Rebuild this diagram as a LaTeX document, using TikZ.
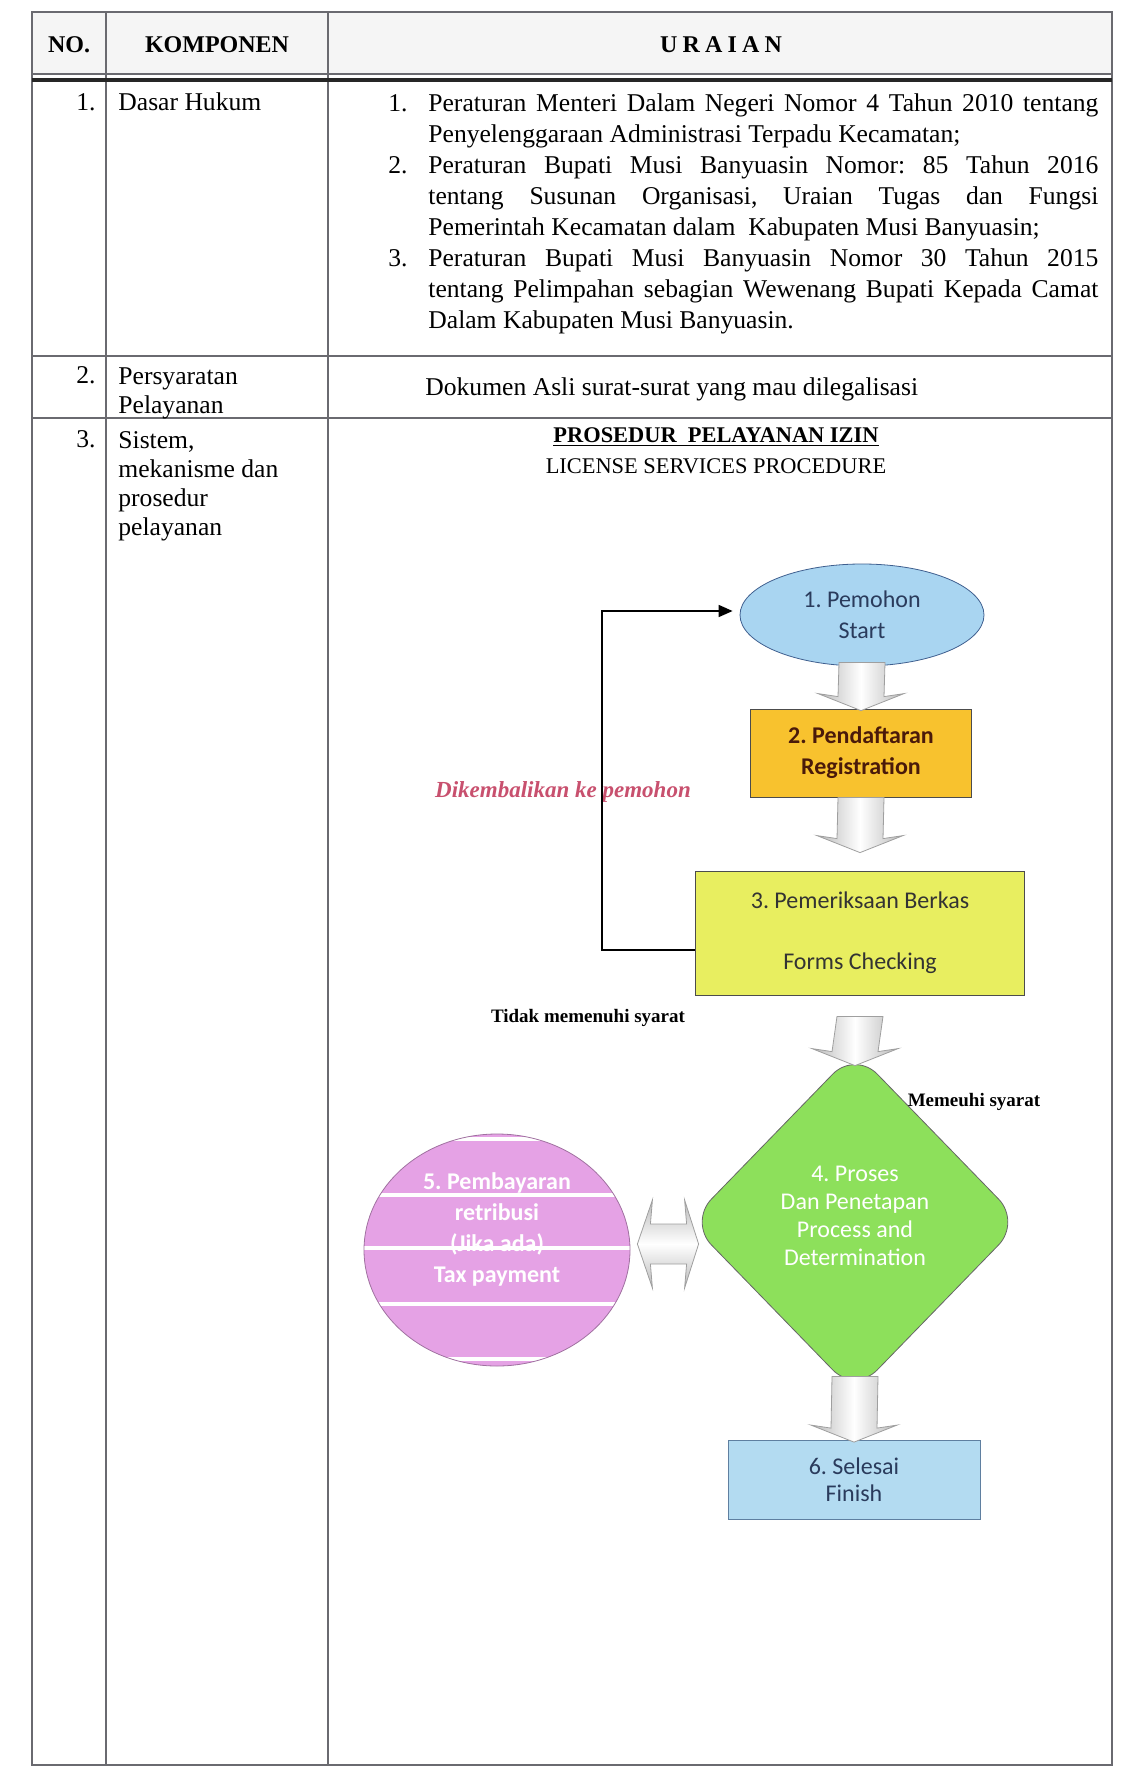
\documentclass[tikz,border=0pt]{standalone}
\usepackage{fontspec}
\setmainfont{Liberation Serif}
\newfontfamily\flowfont{Carlito}
\usetikzlibrary{shapes.geometric,arrows.meta,calc,positioning}
\definecolor{startblue}{HTML}{A9D5F1}
\definecolor{startedge}{HTML}{3F5F8F}
\definecolor{startink}{HTML}{2A3B5C}
\definecolor{regyellow}{HTML}{F8C22E}
\definecolor{regink}{HTML}{4A1A0A}
\definecolor{checkyellow}{HTML}{E8EE60}
\definecolor{procgreen}{HTML}{8DE05B}
\definecolor{paypink}{HTML}{E5A2E5}
\definecolor{finblue}{HTML}{B3DBF1}
\definecolor{finedge}{HTML}{5F7FA0}
\definecolor{backred}{HTML}{C8506E}
\definecolor{rulegray}{HTML}{6A6A70}
\newcommand{\downarr}[3][0]{%
  \shadedraw[left color=gray!55,right color=gray!55,middle color=white,draw=gray!75,line width=0.4pt]
    ($(#2)+(-23,#1)$) -- ($(#3)+(-23,-12)$) -- ($(#3)+(-43,-15)$)
    -- ($(#3)+(0,2)$) -- ($(#3)+(43,-15)$) -- ($(#3)+(23,-12)$)
    -- ($(#2)+(23,#1)$) -- cycle;}
\newcommand{\duoarr}[2]{%
  \shadedraw[top color=gray!55,bottom color=gray!55,middle color=white,draw=gray!75,line width=0.4pt]
    ($(#1.east)+(7,-6)$) -- ($(#1.east)+(22,-50)$) -- ($(#1.east)+(20,-26)$)
    -- ($(#2 |- #1.east)+(-15,-26)$) -- ($(#2 |- #1.east)+(-17,-50)$)
    -- ($(#2 |- #1.east)+(-3,-6)$) -- ($(#2 |- #1.east)+(-17,38)$)
    -- ($(#2 |- #1.east)+(-15,14)$) -- ($(#1.east)+(20,14)$) -- ($(#1.east)+(22,38)$) -- cycle;}
\begin{document}
\frenchspacing
\begin{tikzpicture}[x=0.5pt,y=-0.5pt]
\tikzset{rule/.style={draw=rulegray,line width=0.6pt},
  cell/.style={inner sep=0pt,font=\fontsize{12.8}{15.5}\selectfont},
  head/.style={inner sep=0pt,font=\fontsize{12}{14}\selectfont\bfseries},
  title/.style={inner sep=0pt,font=\fontsize{11.2}{13}\selectfont},
  flow/.style={inner sep=0pt,align=center,font=\flowfont\fontsize{12}{15.5}\selectfont},
  startnode/.style={flow,ellipse,draw=startedge,fill=startblue,text=startink,minimum width=122pt,minimum height=51pt},
  regbox/.style={flow,rectangle,draw=black!70,fill=regyellow,text=regink,font=\flowfont\bfseries\fontsize{12}{15.5}\selectfont,minimum width=110.5pt,minimum height=44pt},
  checkbox/.style={flow,rectangle,draw=black!70,fill=checkyellow,text=black!80,minimum width=164.5pt,minimum height=62pt},
  procnode/.style={flow,diamond,draw=black!60,fill=procgreen,text=white,rounded corners=16pt,minimum width=166pt,minimum height=171pt,font=\flowfont\fontsize{12}{14}\selectfont,text depth=6pt},
  paynode/.style={flow,ellipse,draw=paypink!70!black,fill=paypink,text=white,minimum width=133pt,minimum height=116pt,font=\flowfont\bfseries\fontsize{12}{15.5}\selectfont,text depth=22pt,
    path picture={\foreach \d in {55.5,27.5,1,-27,-54.5}{\draw[white,line width=1.6pt] ([yshift=\d pt]path picture bounding box.west) -- ([yshift=\d pt]path picture bounding box.east);}}},
  finbox/.style={flow,rectangle,draw=finedge,fill=finblue,text=startink,minimum width=126pt,minimum height=39.5pt,font=\flowfont\fontsize{12}{13.5}\selectfont},
  note/.style={inner sep=0pt,font=\fontsize{9.5}{11}\selectfont\bfseries},
  backline/.style={line width=0.8pt,-{Triangle[length=7pt,width=6pt]}}}
\useasboundingbox (0,0) rectangle (1120,1775);
\fill[gray!8] (32,12) rectangle (1112,74);
\draw[rule] (32,12) rectangle (1112,1765);
\draw[rule] (106,12) -- (106,1765) (328,12) -- (328,1765);
\draw[rule] (32,74) -- (1112,74) (32,356) -- (1112,356) (32,418) -- (1112,418);
\draw[gray!30!black,line width=2pt] (32,80) -- (1112,80);
\node[head] (no) at (69,45) {NO.};
\node[head] (komp) at (217,45) {KOMPONEN};
\node[head] (urai) at (721,45) {U\hspace{2.6pt}R\hspace{2.6pt}A\hspace{2.6pt}I\hspace{2.6pt}A\hspace{2.6pt}N};
\node[cell,anchor=base east] (no1) at (96,111) {1.};
\node[cell,anchor=base west] (k1) at (118,111) {Dasar Hukum};
\node[cell,anchor=north west,text width=355pt,align=justify] (dasar) at (388,93) {%
\hangindent=20pt\hangafter=1\noindent\makebox[20pt][l]{1.}Peraturan Menteri Dalam Negeri Nomor 4 Tahun 2010 tentang\linebreak Penyelenggaraan Administrasi Terpadu Kecamatan;\par
\hangindent=20pt\hangafter=1\noindent\makebox[20pt][l]{2.}Peraturan Bupati Musi Banyuasin Nomor: 85 Tahun 2016\linebreak tentang Susunan Organisasi, Uraian Tugas dan Fungsi\linebreak Pemerintah Kecamatan dalam~ Kabupaten Musi Banyuasin;\par
\hangindent=20pt\hangafter=1\noindent\makebox[20pt][l]{3.}Peraturan Bupati Musi Banyuasin Nomor 30 Tahun 2015\linebreak tentang Pelimpahan sebagian Wewenang Bupati Kepada Camat\linebreak Dalam Kabupaten Musi Banyuasin.\par};
\node[cell,anchor=base east] (no2) at (96,384) {2.};
\node[cell,anchor=north west,align=left,font=\fontsize{12.8}{14.5}\selectfont] (k2) at (118,367) {Persyaratan\\Pelayanan};
\node[cell,anchor=base west] (syarat) at (425,396) {Dokumen Asli surat-surat yang mau dilegalisasi};
\node[cell,anchor=base east] (no3) at (96,448) {3.};
\node[cell,anchor=north west,align=left,font=\fontsize{12.8}{14.5}\selectfont] (k3) at (118,431) {Sistem,\\mekanisme dan\\prosedur\\pelayanan};
\node[title,font=\fontsize{11.2}{13}\selectfont\bfseries] (judul) at (716,437) {\underline{PROSEDUR\ \ PELAYANAN IZIN}};
\node[title] (sub) at (716,466) {LICENSE SERVICES PROCEDURE};
\node[startnode] (1) at (862,615) {1. Pemohon\\Start};
\node[regbox] (2) at (861,753) {2. Pendaftaran\\Registration};
\node[checkbox] (3) at (860,933) {3. Pemeriksaan Berkas\\[15pt]Forms Checking};
\node[procnode] (4) at (855,1222) {4. Proses\\Dan Penetapan\\Process and\\Determination};
\node[paynode] (5) at (497,1250) {5. Pembayaran\\retribusi\\(Jika ada)\\Tax payment};
\node[finbox] (6) at (854,1480) {6. Selesai\\Finish};
\coordinate (3top) at ($(3.north)+(0,-20)$);
\coordinate (4top) at ($(4.north)+(0,13)$);
\coordinate (4bot) at ($(4.south)+(0,-13)$);
\coordinate (4left) at ($(4.west)+(13,0)$);
\node[inner sep=0pt,text=backred,font=\fontsize{11.5}{13}\selectfont\bfseries\itshape] (balik) at (563,792) {Dikembalikan ke pemohon};
\node[note] (tidak) at (588,1018) {Tidak memenuhi syarat};
\node[note] (penuh) at (974,1102) {Memeuhi syarat};
\draw[backline] ($(3.west)+(0,17)$) -- ++(-93,0) |- ($(1.west)+(-7,-4)$);
\downarr[-4]{1.south}{2.north}
\downarr{2.south}{3top}
\downarr[21]{3.south}{4top}
\downarr[-4]{4bot}{6.north}
\duoarr{5}{4left}
\end{tikzpicture}
\end{document}
